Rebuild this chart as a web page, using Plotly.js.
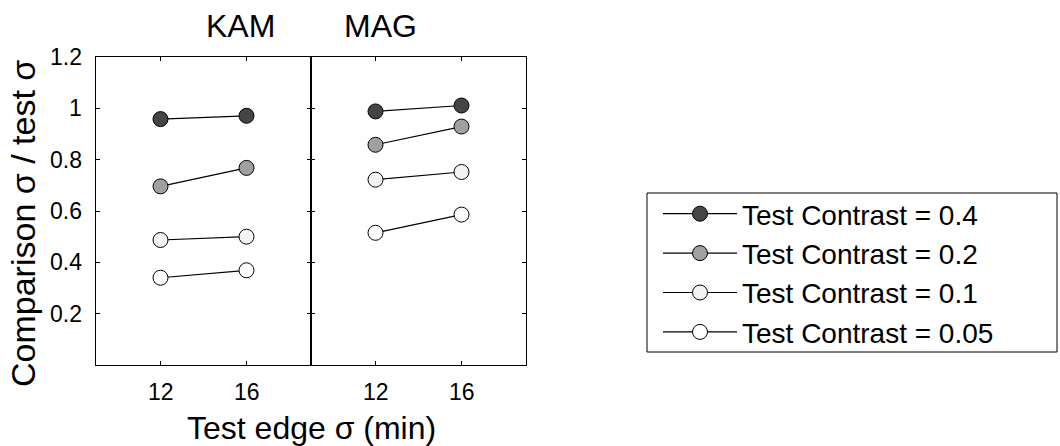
<!DOCTYPE html>
<html>
<head>
<meta charset="utf-8">
<script src="https://cdn.plot.ly/plotly-2.35.2.min.js"></script>
<style>html,body{margin:0;padding:0;background:#fff;}#chart{width:1060px;height:446px;}</style>
</head>
<body>
<div id="chart"></div>
<script>
var testEdge = [12, 16];
var xTickText = ['12', '16'];
var contrastLabels = ['Test Contrast = 0.4', 'Test Contrast = 0.2', 'Test Contrast = 0.1', 'Test Contrast = 0.05'];
var kam_04 = [0.958, 0.971];
var kam_02 = [0.696, 0.768];
var kam_01 = [0.487, 0.500];
var kam_005 = [0.340, 0.369];
var mag_04 = [0.988, 1.011];
var mag_02 = [0.858, 0.929];
var mag_01 = [0.722, 0.752];
var mag_005 = [0.515, 0.586];
var panelTitles = ['KAM', 'MAG'];
var yTicks = [0.2, 0.4, 0.6, 0.8, 1, 1.2];
var yTickText = ['0.2', '0.4', '0.6', '0.8', '1', '1.2'];

var fills = ['#454545', '#a0a0a0', '#f3f3f3', '#ffffff'];
var kam = [kam_04, kam_02, kam_01, kam_005];
var mag = [mag_04, mag_02, mag_01, mag_005];
var FONT = 'Arial, "Liberation Sans", Helvetica, sans-serif';

var traces = [];
for (var i = 0; i < 4; i++) {
  var common = {
    mode: 'lines+markers',
    line: {color: '#000', width: 1.2},
    marker: {size: 15, color: fills[i], line: {color: '#000', width: 1}},
    name: contrastLabels[i],
    hoverinfo: 'x+y'
  };
  traces.push(Object.assign({}, common, {x: testEdge, y: kam[i], xaxis: 'x', yaxis: 'y', showlegend: true}));
  traces.push(Object.assign({}, common, {x: testEdge, y: mag[i], xaxis: 'x2', yaxis: 'y2', showlegend: false}));
}

function makeX(domain, anchor) {
  return {
    domain: domain, anchor: anchor,
    range: [9, 19], tickmode: 'array', tickvals: testEdge, ticktext: xTickText,
    ticks: 'inside', ticklen: 4, tickcolor: '#000', mirror: 'ticks',
    showline: true, linecolor: '#000', linewidth: 1,
    showgrid: false, zeroline: false, showticklabels: false
  };
}
function makeY(anchor) {
  return {
    anchor: anchor, showticklabels: false,
    range: [0, 1.2], tickmode: 'array', tickvals: yTicks, ticktext: yTickText,
    ticks: 'inside', ticklen: 4, tickcolor: '#000', mirror: 'ticks',
    showline: true, linecolor: '#000', linewidth: 1,
    showgrid: false, zeroline: false
  };
}

function px2x(p) { return (p - 96) / 430; }
function px2y(p) { return (365 - p) / 308; }

var tickFont = {family: FONT, size: 23, color: '#000'};
var annotations = [
  {text: panelTitles[0], xref: 'paper', yref: 'paper', x: 0.25, y: 1, yanchor: 'middle', yshift: 31, showarrow: false, font: {family: FONT, size: 32, color: '#000'}},
  {text: panelTitles[1], xref: 'paper', yref: 'paper', x: 0.75, y: 1, yanchor: 'middle', yshift: 31, showarrow: false, font: {family: FONT, size: 32, color: '#000'}},
  {text: 'Test edge σ (min)', xref: 'paper', yref: 'paper', x: 0.5, y: 0, yanchor: 'middle', yshift: -63, showarrow: false, font: {family: FONT, size: 32, color: '#000'}},
  {text: 'Comparison σ / test σ', xref: 'paper', yref: 'paper', x: 0, xanchor: 'center', xshift: -73, y: px2y(224), yanchor: 'middle', textangle: -90, showarrow: false, font: {family: FONT, size: 34, color: '#000'}}
];
// tick labels placed through the axes' own scales
['x', 'x2'].forEach(function (xr) {
  testEdge.forEach(function (v, k) {
    annotations.push({text: xTickText[k], xref: xr, yref: 'paper', x: v, y: 0, yanchor: 'middle', yshift: -27, showarrow: false, font: tickFont});
  });
});
yTicks.forEach(function (v, k) {
  annotations.push({text: yTickText[k], xref: 'paper', yref: 'y', x: 0, y: v, xanchor: 'right', yanchor: 'middle', xshift: -12, showarrow: false, font: tickFont});
});

var layout = {
  width: 1060, height: 446,
  margin: {l: 96, r: 534, t: 57, b: 81},
  paper_bgcolor: '#fff', plot_bgcolor: '#fff',
  font: {family: FONT, color: '#000', size: 23},
  xaxis: makeX([0, 0.5], 'y'),
  xaxis2: makeX([0.5, 1], 'y2'),
  yaxis: makeY('x'),
  yaxis2: makeY('x2'),
  showlegend: true,
  legend: {
    x: px2x(658), y: px2y(189), xanchor: 'left', yanchor: 'top',
    borderwidth: 0, bgcolor: 'rgba(0,0,0,0)',
    font: {family: FONT, size: 28, color: '#000'},
    itemwidth: 74, tracegroupgap: 0
  },
  shapes: [
    {type: 'rect', xref: 'paper', yref: 'paper', x0: px2x(647), x1: px2x(1057), y0: px2y(352), y1: px2y(193), line: {color: '#000', width: 1}, fillcolor: 'rgba(0,0,0,0)', layer: 'below'}
  ],
  annotations: annotations
};

Plotly.newPlot('chart', traces, layout, {displayModeBar: false, staticPlot: true});
</script>
</body>
</html>
